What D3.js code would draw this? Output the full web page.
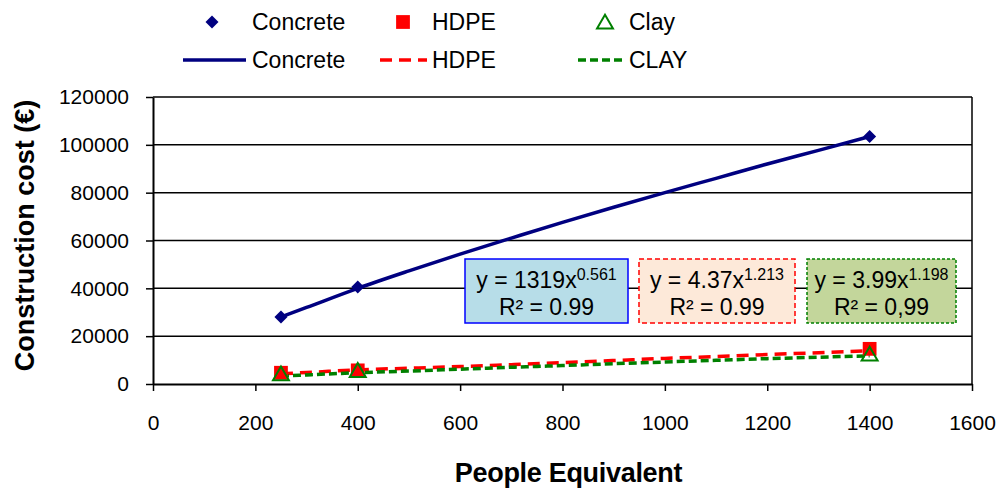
<!DOCTYPE html>
<html>
<head>
<meta charset="utf-8">
<script src="https://cdn.jsdelivr.net/npm/d3@7"></script>
<style>
    body { margin: 0; background: #fff; }
    svg { font-family: "Liberation Sans", Arial, sans-serif; }
</style>
</head>
<body>
<div id="chart"></div>
<script>
// tick labels
let peTicks = [0, 200, 400, 600, 800, 1000, 1200, 1400, 1600];
let costTicks = [0, 20000, 40000, 60000, 80000, 100000, 120000];

// measured points (people equivalent -> construction cost)
let sampleX = [250, 400, 1400];
let concreteCost = [28000, 40600, 103500];
let hdpeCost = [4700, 5700, 14700];
let clayCost = [3500, 4900, 11700];

// trend lines
let trendX = [250, 300, 400, 500, 600, 700, 800, 900, 1000, 1100, 1200, 1300, 1400];
let concreteTrend = [28000, 32000, 40000, 47300, 54300, 61000, 67600, 73900, 80000, 86000, 92000, 97700, 103500];
let hdpeTrend = [4300, 4800, 5900, 6600, 7300, 8100, 8900, 9800, 10700, 11500, 12300, 13100, 13900];
let clayTrend = [3300, 3800, 4700, 5400, 6200, 7000, 7700, 8500, 9200, 9900, 10600, 11200, 11800];

// trend equations
let eqBase = ['y = 1319x', 'y = 4.37x', 'y = 3.99x'];
let eqExp = ['0.561', '1.213', '1.198'];
let eqR2 = ['R\u00b2 = 0.99', 'R\u00b2 = 0.99', 'R\u00b2 = 0,99'];

let width = 1004,
    height = 488;

let svg = d3.select('#chart').append('svg')
    .attr('width', width)
    .attr('height', height);

//----------------------------------------
// Scales
let x = d3.scaleLinear().domain([0, 1600]).range([153, 972]);
let y = d3.scaleLinear().domain([0, 120000]).range([384, 97]);

//----------------------------------------
// Gridlines + frame
svg.append('g')
    .selectAll('line')
    .data(costTicks.slice(1))
    .enter()
    .append('line')
    .attr('x1', x(0)).attr('x2', x(1600))
    .attr('y1', d => y(d)).attr('y2', d => y(d))
    .style('stroke', '#000')
    .style('stroke-width', 1.5);

svg.append('line')
    .attr('x1', x(1600)).attr('x2', x(1600))
    .attr('y1', y(120000)).attr('y2', y(0))
    .style('stroke', '#000')
    .style('stroke-width', 1.5);

//----------------------------------------
// Axes
let xAxis = d3.axisBottom(x)
    .tickValues(peTicks)
    .tickFormat(d3.format('d'))
    .tickSize(7)
    .tickSizeOuter(0)
    .tickPadding(24);

let yAxis = d3.axisLeft(y)
    .tickValues(costTicks)
    .tickFormat(d3.format('d'))
    .tickSize(7)
    .tickSizeOuter(0)
    .tickPadding(17);

let gx = svg.append('g')
    .attr('transform', 'translate(0,' + y(0) + ')')
    .call(xAxis);
let gy = svg.append('g')
    .attr('transform', 'translate(' + x(0) + ',0)')
    .call(yAxis);

[gx, gy].forEach(function(g) {
    g.select('.domain').style('stroke', '#000').style('stroke-width', 2);
    g.selectAll('.tick line').style('stroke', '#000').style('stroke-width', 1.5);
    g.selectAll('.tick text')
        .style('font-family', '"Liberation Sans", Arial, sans-serif')
        .style('font-size', '21px')
        .style('fill', '#000');
});

// Axis titles
svg.append('text')
    .attr('x', (x(0) + x(1600)) / 2 + 6)
    .attr('y', 482)
    .attr('text-anchor', 'middle')
    .style('font-size', '27px')
    .style('font-weight', 'bold')
    .style('letter-spacing', '-0.3px')
    .text('People Equivalent');

svg.append('text')
    .attr('transform', 'translate(34,' + ((y(0) + y(120000)) / 2 - 5) + ') rotate(-90)')
    .attr('text-anchor', 'middle')
    .style('font-size', '27px')
    .style('font-weight', 'bold')
    .text('Construction cost (\u20ac)');

//----------------------------------------
// Trend lines
let line = d3.line()
    .x(d => x(d[0]))
    .y(d => y(d[1]))
    .curve(d3.curveMonotoneX);

let trends = [
    {vals: concreteTrend, color: '#000080', dash: null},
    {vals: hdpeTrend, color: '#ff0000', dash: '12,7'},
    {vals: clayTrend, color: '#008000', dash: '8,4'}
];

svg.append('g')
    .selectAll('path')
    .data(trends)
    .enter()
    .append('path')
    .attr('d', d => line(trendX.map((t, i) => [t, d.vals[i]])))
    .style('fill', 'none')
    .style('stroke', d => d.color)
    .style('stroke-width', 3.5)
    .style('stroke-dasharray', d => d.dash);

//----------------------------------------
// Markers
let diamond = d3.symbol(d3.symbolSquare, 85);
let square = d3.symbol(d3.symbolSquare, 190);
let triangle = d3.symbol(d3.symbolTriangle, 110);

svg.append('g')
    .selectAll('path')
    .data(sampleX.map((v, i) => [v, concreteCost[i]]))
    .enter()
    .append('path')
    .attr('d', diamond)
    .attr('transform', d => 'translate(' + x(d[0]) + ',' + y(d[1]) + ') rotate(45)')
    .style('fill', '#000080');

svg.append('g')
    .selectAll('path')
    .data(sampleX.map((v, i) => [v, hdpeCost[i]]))
    .enter()
    .append('path')
    .attr('d', square)
    .attr('transform', d => 'translate(' + x(d[0]) + ',' + y(d[1]) + ')')
    .style('fill', '#ff0000');

svg.append('g')
    .selectAll('path')
    .data(sampleX.map((v, i) => [v, clayCost[i]]))
    .enter()
    .append('path')
    .attr('d', triangle)
    .attr('transform', d => 'translate(' + x(d[0]) + ',' + y(d[1]) + ')')
    .style('fill', 'none')
    .style('stroke', '#008000')
    .style('stroke-width', 2);

//----------------------------------------
// Equation boxes
let boxes = [
    {x0: 465, x1: 628, fill: '#b7dde8', stroke: '#0000ff', dash: null},
    {x0: 639, x1: 795, fill: '#fde9d9', stroke: '#ff0000', dash: '5,3'},
    {x0: 807, x1: 956, fill: '#c3d69b', stroke: '#008000', dash: '3,2'}
];

let eq = svg.append('g')
    .selectAll('g')
    .data(boxes)
    .enter()
    .append('g');

eq.append('rect')
    .attr('x', d => d.x0)
    .attr('y', 259)
    .attr('width', d => d.x1 - d.x0)
    .attr('height', 64)
    .style('fill', d => d.fill)
    .style('stroke', d => d.stroke)
    .style('stroke-width', 1.5)
    .style('stroke-dasharray', d => d.dash);

let eqText = eq.append('text')
    .attr('x', d => (d.x0 + d.x1) / 2)
    .attr('y', 288)
    .attr('text-anchor', 'middle')
    .style('font-size', '23px');
eqText.append('tspan').text((d, i) => eqBase[i]);
eqText.append('tspan')
    .attr('dy', -8)
    .style('font-size', '16px')
    .text((d, i) => eqExp[i]);

eq.append('text')
    .attr('x', d => (d.x0 + d.x1) / 2)
    .attr('y', 315)
    .attr('text-anchor', 'middle')
    .style('font-size', '23px')
    .text((d, i) => eqR2[i]);

//----------------------------------------
// Legend
let legendMarkers = [
    {mx: 212, tx: 252, label: 'Concrete'},
    {mx: 403, tx: 432, label: 'HDPE'},
    {mx: 605, tx: 629, label: 'Clay'}
];
let legendLines = [
    {x0: 183, x1: 246, label: 'Concrete'},
    {x0: 380, x1: 427, label: 'HDPE'},
    {x0: 578, x1: 625, label: 'CLAY'}
];

svg.append('path').attr('d', diamond)
    .attr('transform', 'translate(' + legendMarkers[0].mx + ',22) rotate(45)')
    .style('fill', '#000080');
svg.append('path').attr('d', square)
    .attr('transform', 'translate(' + legendMarkers[1].mx + ',22)')
    .style('fill', '#ff0000');
svg.append('path').attr('d', triangle)
    .attr('transform', 'translate(' + legendMarkers[2].mx + ',24)')
    .style('fill', 'none')
    .style('stroke', '#008000')
    .style('stroke-width', 2);

svg.append('g')
    .selectAll('text')
    .data(legendMarkers)
    .enter()
    .append('text')
    .attr('x', d => d.tx)
    .attr('y', 30)
    .style('font-size', '23px')
    .text(d => d.label);

svg.append('g')
    .selectAll('line')
    .data(legendLines)
    .enter()
    .append('line')
    .attr('x1', d => d.x0).attr('x2', d => d.x1)
    .attr('y1', 60).attr('y2', 60)
    .style('stroke', (d, i) => trends[i].color)
    .style('stroke-width', 3.5)
    .style('stroke-dasharray', (d, i) => trends[i].dash);

svg.append('g')
    .selectAll('text')
    .data(legendLines)
    .enter()
    .append('text')
    .attr('x', (d, i) => legendMarkers[i].tx)
    .attr('y', 68)
    .style('font-size', '23px')
    .text(d => d.label);
</script>
</body>
</html>
